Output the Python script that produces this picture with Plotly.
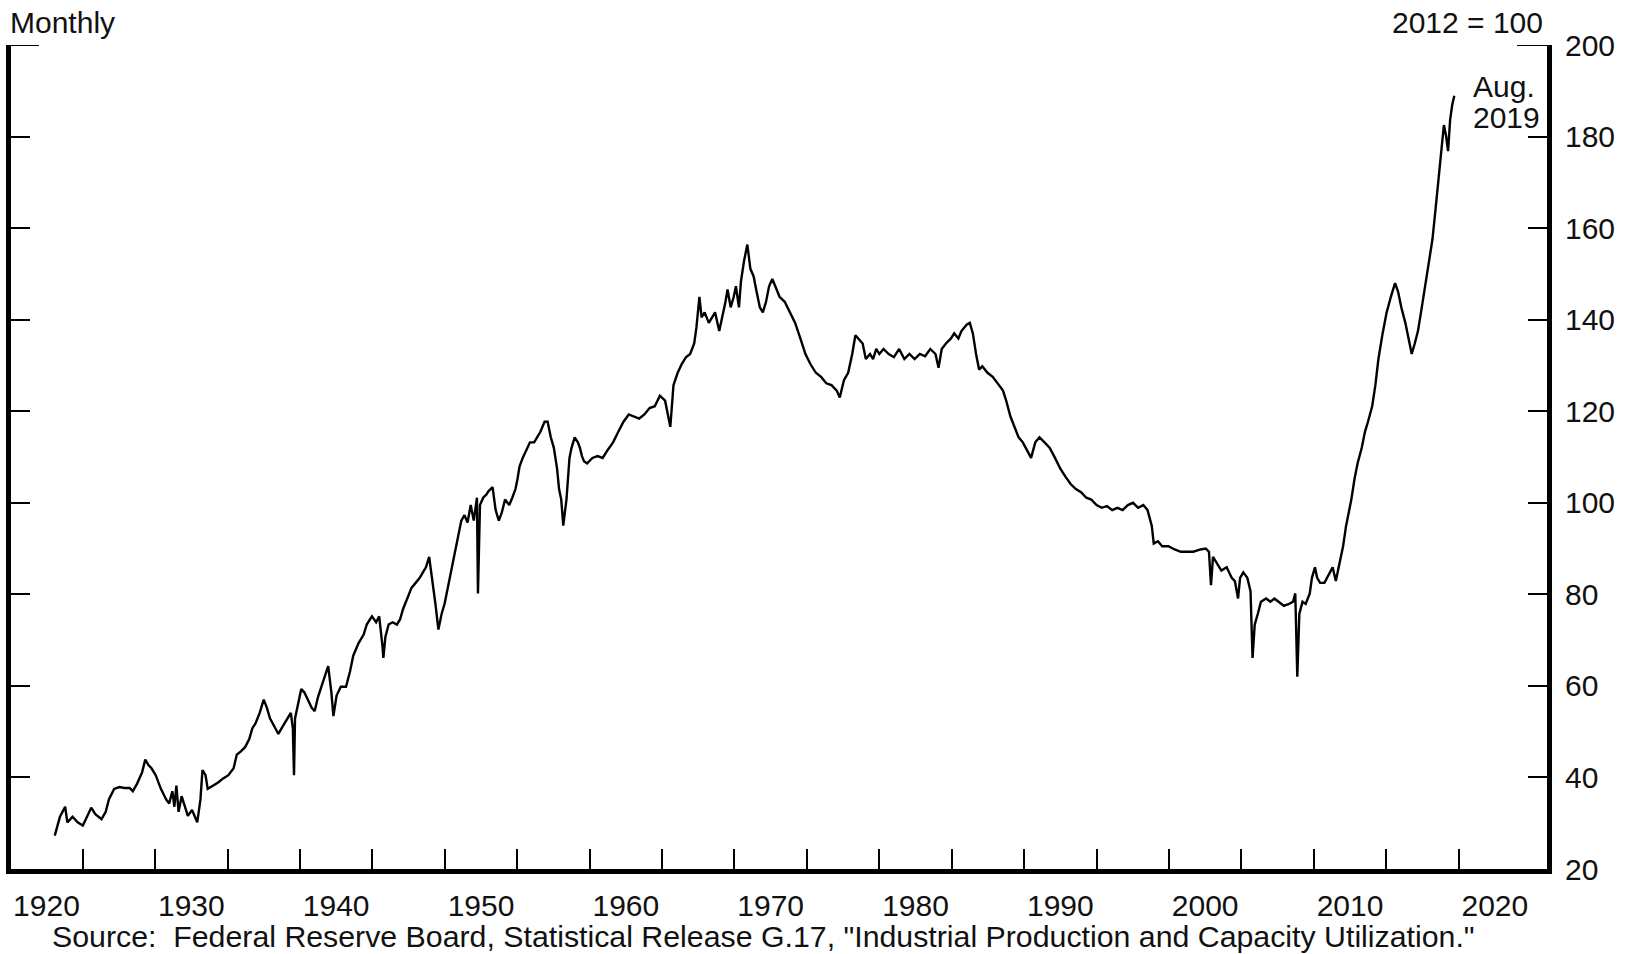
import plotly.graph_objects as go

# Monthly index readings, 2012 = 100
years = [
    1920.57, 1920.93, 1921.29, 1921.44, 1921.80, 1922.15, 1922.51, 1922.87, 1923.09, 1923.37,
    1923.80, 1924.09, 1924.31, 1924.67, 1925.03, 1925.38, 1925.74, 1925.96, 1926.25, 1926.60,
    1926.82, 1927.04, 1927.25, 1927.54, 1927.90, 1928.26, 1928.47, 1928.69, 1928.83, 1928.97,
    1929.12, 1929.33, 1929.55, 1929.76, 1930.05, 1930.27, 1930.41, 1930.63, 1930.77, 1930.98,
    1931.13, 1931.49, 1931.85, 1932.20, 1932.56, 1932.92, 1933.14, 1933.42, 1933.71, 1934.00,
    1934.21, 1934.43, 1934.72, 1935.00, 1935.22, 1935.43, 1935.79, 1936.01, 1936.30, 1936.58,
    1936.87, 1937.01, 1937.09, 1937.16, 1937.37, 1937.59, 1937.80, 1938.02, 1938.31, 1938.52,
    1938.74, 1939.02, 1939.24, 1939.45, 1939.67, 1939.81, 1940.03, 1940.32, 1940.68, 1940.96,
    1941.18, 1941.54, 1941.90, 1942.11, 1942.33, 1942.47, 1942.76, 1942.97, 1943.19, 1943.26,
    1943.40, 1943.62, 1943.90, 1944.19, 1944.41, 1944.62, 1944.91, 1945.20, 1945.49, 1945.77,
    1946.06, 1946.20, 1946.42, 1946.63, 1946.85, 1947.06, 1947.28, 1947.49, 1947.78, 1948.07,
    1948.35, 1948.64, 1948.86, 1949.07, 1949.29, 1949.50, 1949.72, 1949.79, 1949.93, 1950.15,
    1950.37, 1950.51, 1950.80, 1951.01, 1951.23, 1951.44, 1951.66, 1951.95, 1952.16, 1952.38,
    1952.52, 1952.66, 1952.88, 1953.17, 1953.38, 1953.67, 1953.88, 1954.10, 1954.39, 1954.60,
    1954.82, 1955.03, 1955.25, 1955.39, 1955.54, 1955.68, 1955.90, 1956.11, 1956.25, 1956.47,
    1956.69, 1956.83, 1956.97, 1957.11, 1957.33, 1957.69, 1958.05, 1958.40, 1958.76, 1959.12,
    1959.48, 1959.84, 1960.20, 1960.56, 1960.92, 1961.28, 1961.64, 1962.00, 1962.35, 1962.71,
    1963.07, 1963.29, 1963.58, 1963.86, 1964.15, 1964.44, 1964.72, 1964.87, 1965.08, 1965.23,
    1965.44, 1965.73, 1965.94, 1966.16, 1966.45, 1966.66, 1966.88, 1967.02, 1967.24, 1967.45,
    1967.60, 1967.81, 1967.95, 1968.17, 1968.39, 1968.60, 1968.82, 1969.03, 1969.25, 1969.46,
    1969.68, 1969.89, 1970.11, 1970.32, 1970.61, 1970.97, 1971.33, 1971.69, 1972.05, 1972.40,
    1972.76, 1973.12, 1973.48, 1973.84, 1974.20, 1974.56, 1974.77, 1975.06, 1975.35, 1975.63,
    1975.85, 1976.07, 1976.35, 1976.57, 1976.86, 1977.07, 1977.29, 1977.50, 1977.79, 1978.15,
    1978.51, 1978.87, 1979.23, 1979.58, 1979.94, 1980.30, 1980.66, 1981.02, 1981.38, 1981.59,
    1981.81, 1982.10, 1982.45, 1982.67, 1982.96, 1983.17, 1983.53, 1983.75, 1983.96, 1984.18,
    1984.39, 1984.61, 1984.97, 1985.33, 1985.69, 1986.04, 1986.26, 1986.55, 1986.83, 1987.12,
    1987.41, 1987.69, 1987.98, 1988.27, 1988.56, 1988.91, 1989.27, 1989.63, 1989.99, 1990.35,
    1990.71, 1991.07, 1991.43, 1991.79, 1992.14, 1992.50, 1992.86, 1993.22, 1993.58, 1993.94,
    1994.30, 1994.66, 1995.02, 1995.37, 1995.73, 1996.02, 1996.31, 1996.45, 1996.74, 1997.03,
    1997.46, 1997.89, 1998.32, 1998.75, 1999.18, 1999.68, 2000.04, 2000.26, 2000.40, 2000.54,
    2000.76, 2001.12, 2001.48, 2001.83, 2002.05, 2002.27, 2002.41, 2002.63, 2002.91, 2003.13,
    2003.27, 2003.42, 2003.63, 2003.85, 2004.21, 2004.50, 2004.78, 2005.07, 2005.43, 2005.79,
    2006.07, 2006.22, 2006.36, 2006.50, 2006.72, 2006.94, 2007.22, 2007.37, 2007.58, 2007.73,
    2007.94, 2008.23, 2008.51, 2008.80, 2009.02, 2009.23, 2009.52, 2009.73, 2009.95, 2010.09,
    2010.31, 2010.52, 2010.81, 2011.03, 2011.24, 2011.53, 2011.75, 2011.96, 2012.25, 2012.53,
    2012.82, 2013.11, 2013.32, 2013.54, 2013.82, 2014.04, 2014.26, 2014.47, 2014.69, 2014.90,
    2015.12, 2015.41, 2015.69, 2015.91, 2016.12, 2016.34, 2016.48, 2016.63, 2016.77, 2016.91,
    2017.06, 2017.20,
]

index_values = [
    27.3, 31.4, 33.6, 30.2, 31.4, 30.2, 29.5, 32.0, 33.4, 32.0,
    30.9, 32.5, 35.2, 37.5, 37.9, 37.7, 37.7, 37.0, 38.6, 41.1,
    43.9, 42.7, 42.0, 40.5, 37.5, 35.2, 34.3, 37.0, 33.6, 38.2,
    32.5, 35.9, 33.6, 31.6, 32.9, 31.4, 30.2, 35.2, 41.6, 40.5,
    37.5, 38.2, 38.9, 39.8, 40.5, 42.0, 45.0, 45.7, 46.6, 48.4,
    50.7, 51.8, 54.1, 57.0, 55.2, 52.9, 50.7, 49.5, 51.1, 52.5,
    54.1, 50.7, 40.5, 52.9, 56.4, 59.3, 58.6, 57.0, 55.2, 54.5,
    57.5, 60.2, 62.5, 64.3, 58.6, 53.4, 57.9, 59.8, 59.8, 63.2,
    66.6, 69.3, 71.2, 73.4, 74.5, 75.2, 73.9, 75.2, 68.9, 66.1,
    70.7, 73.4, 73.9, 73.4, 74.5, 76.8, 79.1, 81.4, 82.5, 83.6,
    85.2, 85.9, 88.2, 83.6, 78.0, 72.3, 75.7, 78.0, 82.5, 87.0,
    91.6, 96.1, 97.3, 95.7, 99.5, 96.1, 101.1, 80.2, 99.5, 101.1,
    101.8, 102.5, 103.4, 98.4, 96.1, 97.9, 100.7, 99.5, 101.1, 103.0,
    105.2, 107.9, 109.8, 111.6, 113.2, 113.2, 114.3, 115.5, 117.7, 117.7,
    114.3, 112.0, 107.5, 103.0, 100.7, 95.0, 100.7, 109.8, 112.0, 114.3,
    113.2, 112.0, 110.2, 109.1, 108.6, 109.8, 110.2, 109.8, 111.6, 113.2,
    115.5, 117.7, 119.3, 118.9, 118.4, 119.3, 120.7, 121.1, 123.4, 122.3,
    116.6, 125.7, 128.4, 130.3, 131.8, 132.5, 134.8, 138.2, 145.0, 140.5,
    141.6, 139.3, 140.5, 141.6, 137.5, 140.5, 143.9, 146.6, 142.7, 145.0,
    147.3, 142.7, 148.4, 153.0, 156.4, 151.1, 149.5, 146.1, 142.7, 141.6,
    143.9, 147.3, 148.9, 147.3, 145.0, 143.9, 141.6, 139.3, 135.9, 132.5,
    130.2, 128.4, 127.5, 126.1, 125.7, 124.5, 123.0, 126.8, 128.4, 132.5,
    136.6, 135.9, 134.8, 131.4, 132.5, 131.4, 133.6, 132.5, 133.6, 132.5,
    131.8, 133.6, 131.4, 132.5, 131.4, 132.5, 132.0, 133.6, 132.5, 129.5,
    133.6, 134.8, 135.9, 137.0, 135.9, 137.5, 138.9, 139.3, 137.0, 132.5,
    129.1, 129.8, 128.4, 127.5, 126.1, 124.5, 122.3, 118.9, 116.6, 114.3,
    113.2, 111.6, 109.8, 113.2, 114.3, 113.2, 112.0, 109.8, 107.5, 105.7,
    104.1, 103.0, 102.3, 101.1, 100.7, 99.5, 98.9, 99.3, 98.4, 98.9,
    98.4, 99.5, 100.0, 98.9, 99.5, 98.4, 95.0, 91.1, 91.6, 90.5,
    90.5, 89.8, 89.3, 89.3, 89.3, 89.8, 90.0, 89.3, 82.0, 88.2,
    87.0, 85.2, 85.9, 83.6, 82.9, 79.1, 83.6, 84.8, 83.6, 80.7,
    66.1, 73.4, 75.7, 78.4, 79.1, 78.4, 79.1, 78.4, 77.5, 77.9,
    78.4, 80.2, 62.0, 75.7, 78.4, 77.9, 80.2, 83.6, 85.9, 83.6,
    82.5, 82.5, 84.3, 85.9, 82.9, 85.9, 90.5, 95.0, 98.4, 100.7,
    105.2, 108.6, 112.0, 115.5, 117.7, 121.1, 125.7, 131.4, 137.0, 141.6,
    145.0, 148.0, 146.1, 142.7, 139.3, 135.9, 132.5, 134.8, 137.5, 141.6,
    146.1, 151.8, 157.5, 164.3, 171.1, 177.9, 182.5, 180.2, 176.8, 183.6,
    187.0, 188.9,
]

decade_labels = list(range(1920, 2021, 10))
tick_marks = [1922.5 + 5 * k for k in range(20)]
y_ticks = list(range(20, 201, 20))

FONT = "Liberation Sans, Arial, Helvetica, sans-serif"
TEXT_COLOR = "#111111"
FONT_SIZE = 30

fig = go.Figure()
fig.add_trace(go.Scatter(
    x=years,
    y=index_values,
    mode="lines",
    line=dict(color="black", width=2.4),
    hoverinfo="skip",
    showlegend=False,
))

fig.update_layout(
    template="none",
    width=1629,
    height=954,
    margin=dict(l=11, r=82, t=45, b=85, autoexpand=False),
    paper_bgcolor="white",
    plot_bgcolor="white",
    font=dict(family=FONT, size=FONT_SIZE, color=TEXT_COLOR),
    showlegend=False,
)

fig.update_xaxes(
    automargin=False,
    range=[1917.55, 2023.6],
    showline=True,
    linewidth=5,
    linecolor="black",
    showgrid=False,
    zeroline=False,
    tickmode="array",
    tickvals=decade_labels,
    ticktext=[str(d) for d in decade_labels],
    ticks="",
    ticklabelstandoff=6,
    tickfont=dict(size=FONT_SIZE, color=TEXT_COLOR),
    minor=dict(
        tickmode="array",
        tickvals=tick_marks,
        ticks="inside",
        ticklen=20,
        tickwidth=2,
        tickcolor="black",
        showgrid=False,
    ),
)

fig.update_yaxes(
    automargin=False,
    range=[20, 200],
    side="right",
    showline=True,
    linewidth=5,
    linecolor="black",
    mirror="ticks",
    ticks="inside",
    ticklen=19,
    tickwidth=2,
    tickcolor="black",
    tickmode="array",
    tickvals=y_ticks,
    showgrid=False,
    zeroline=False,
    ticklabelstandoff=7,
    tickfont=dict(size=FONT_SIZE, color=TEXT_COLOR),
)

# longer caps at the top of both vertical axes
for x0, x1 in [(0, 28 / 1536), (1 - 30 / 1536, 1)]:
    fig.add_shape(
        type="line", xref="x domain", yref="y",
        x0=x0, x1=x1, y0=200, y1=200,
        line=dict(color="black", width=2),
    )

fig.add_annotation(
    text="Monthly", xref="paper", yref="paper", x=-0.002, y=1.027,
    xanchor="left", yanchor="middle", showarrow=False,
)
fig.add_annotation(
    text="2012 = 100", xref="paper", yref="paper", x=0.9985, y=1.027,
    xanchor="right", yanchor="middle", showarrow=False,
)
fig.add_annotation(
    text="Aug.", xref="paper", yref="paper", x=0.9505, y=0.9495,
    xanchor="left", yanchor="middle", showarrow=False,
)
fig.add_annotation(
    text="2019", xref="paper", yref="paper", x=0.9505, y=0.9125,
    xanchor="left", yanchor="middle", showarrow=False,
)
fig.add_annotation(
    text="Source:&nbsp; Federal Reserve Board, Statistical Release G.17, "
         "\"Industrial Production and Capacity Utilization.\"",
    xref="paper", yref="paper", x=0.0255, y=-0.0825,
    xanchor="left", yanchor="middle", showarrow=False,
    font=dict(size=30.3),
)

# drop the browser's default page margin so the 1629x954 figure fills the window
fig.write_html(
    "out.html",
    config={"displayModeBar": False},
    post_script="document.body.style.margin='0';document.body.style.overflow='hidden';",
)
